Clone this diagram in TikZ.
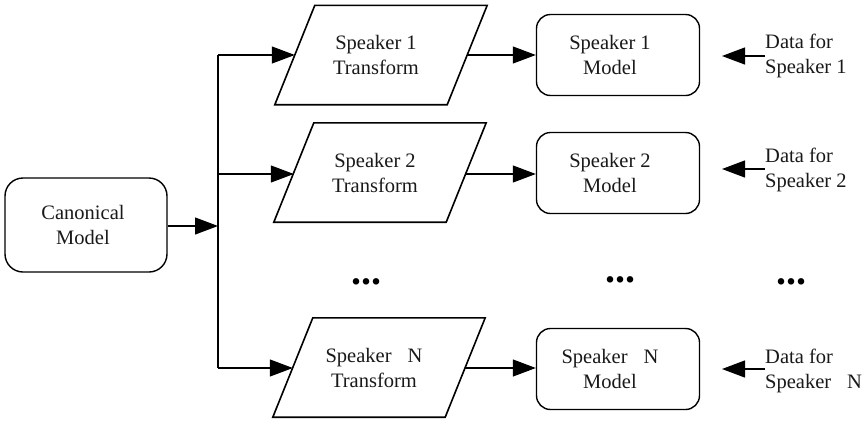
\documentclass[tikz,border=0pt]{standalone}
\usepackage{fontspec}
\setmainfont{Liberation Serif}
\usetikzlibrary{arrows.meta}
\begin{document}
\begin{tikzpicture}[x=1pt,y=-1pt,
  txt/.style={font=\fontsize{20.5}{25}\selectfont, align=center, text=black!90},
  modelbox/.style={txt, draw, line width=1.4pt, rounded corners=14pt, minimum width=163pt, minimum height=81pt, inner sep=0pt},
  canbox/.style={modelbox, rounded corners=18pt, minimum width=162pt, minimum height=94pt},
  xform/.style={txt, minimum width=172pt, minimum height=99pt, inner sep=0pt},
  pgram/.style={line width=1.6pt, line join=miter},
  datatxt/.style={txt, align=left, anchor=west, inner sep=0pt},
  conn/.style={line width=1.2pt, -{Triangle[length=23pt,width=17pt]}},
  dots/.style={font=\fontsize{40}{40}\selectfont\bfseries, inner sep=0pt}
]
\useasboundingbox (0,0) rectangle (865,429);

\node[canbox] (can) at (86,225) {Canonical\hspace*{6pt}\\Model\hspace*{6pt}};

\node[xform] (t1) at (381,55) {Speaker 1\hspace*{10pt}\\Transform\hspace*{10pt}};
\node[xform] (t2) at (380,172.5) {Speaker 2\hspace*{10pt}\\Transform\hspace*{10pt}};
\node[xform] (tn) at (379,367.5) {Speaker\hspace{16pt}N\hspace*{10pt}\\Transform\hspace*{10pt}};

\foreach \n in {t1,t2,tn}
  \draw[pgram] ([xshift=-20pt]\n.south west) -- ([xshift=20pt]\n.north west)
     -- ([xshift=20pt]\n.north east) -- ([xshift=-20pt]\n.south east) -- cycle;

\node[modelbox] (m1) at (618,55) {Speaker 1\hspace*{16pt}\\Model\hspace*{16pt}};
\node[modelbox] (m2) at (618,173) {Speaker 2\hspace*{16pt}\\Model\hspace*{16pt}};
\node[modelbox] (mn) at (618,369) {Speaker\hspace{16pt}N\hspace*{16pt}\\Model\hspace*{16pt}};

\node[datatxt] (d1) at (765,56) {Data for\\Speaker 1};
\node[datatxt] (d2) at (765,170) {Data for\\Speaker 2};
\node[datatxt] (dn) at (765,371) {Data for\\Speaker\hspace{16pt}N};

\coordinate (a1) at (722,56);
\coordinate (a2) at (722,169);
\coordinate (an) at (722,369);

\coordinate (j0) at (218,226);
\coordinate (j1) at (218,55);
\coordinate (j2) at (218,174);
\coordinate (jn) at (218,368);

\node[dots] (dot1) at (366,282) {...};
\node[dots] (dot2) at (620,280) {...};
\node[dots] (dot3) at (791,282) {...};

\draw[conn] (can.east |- j0) -- (j0);
\draw[line width=1.2pt] (j1) -- (jn);
\draw[conn] (j1) -- (t1.west |- j1);
\draw[conn] (j2) -- (t2.west |- j2);
\draw[conn] (jn) -- (tn.west |- jn);

\draw[conn] (t1.east |- j1) -- (m1.west |- j1);
\draw[conn] (t2.east |- j2) -- (m2.west |- j2);
\draw[conn] (tn.east |- jn) -- (mn.west |- jn);

\draw[conn] (d1.west |- a1) -- (a1);
\draw[conn] (d2.west |- a2) -- (a2);
\draw[conn] (dn.west |- an) -- (an);
\end{tikzpicture}
\end{document}
